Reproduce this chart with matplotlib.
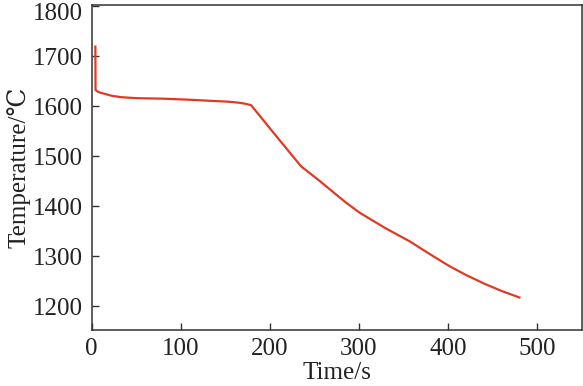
import matplotlib
matplotlib.use('Agg')
import matplotlib.pyplot as plt
from matplotlib.transforms import ScaledTranslation

# cooling curve
time_s = [4.3, 4.5, 8, 14, 22, 33, 50, 80, 108, 130, 153, 165, 172, 179,
          205, 235, 255, 270, 285, 301, 330, 357, 380, 402, 420, 440, 460, 480]
temp_c = [1719, 1632, 1628, 1625, 1621, 1618, 1616, 1615, 1613, 1611, 1609, 1607, 1605, 1602,
          1545, 1480, 1452, 1430, 1408, 1387, 1356, 1330, 1304, 1280, 1263, 1246, 1231, 1218]

x_ticks = [0, 100, 200, 300, 400, 500]
y_ticks = [1200, 1300, 1400, 1500, 1600, 1700, 1800]

plt.rcParams['font.family'] = ['Liberation Serif', 'DejaVu Serif']

fig = plt.figure(figsize=(5.83, 3.86), dpi=100)
ax = fig.add_axes([0.157, 0.145, 0.841, 0.842])

ax.plot(time_s, temp_c, color='#e23a22', linewidth=1.6)

ax.set_xlim(0, 550)
ax.set_ylim(1153, 1802)
ax.set_xticks(x_ticks)
ax.set_yticks(y_ticks)
ax.tick_params(direction='in', length=5, width=1, labelsize=18, colors='#333333',
               labelcolor='#222222', pad=6)
for sp in ax.spines.values():
    sp.set_color('#333333')
    sp.set_linewidth(1.1)

# top label sits a little lower so it stays inside the figure
top_lbl = ax.get_yticklabels()[-1]
top_lbl.set_transform(top_lbl.get_transform() + ScaledTranslation(0, -4 / 72, fig.dpi_scale_trans))

ax.set_xlabel('Time/s', fontsize=18, labelpad=1.5, color='#222222')
ax.set_ylabel('Temperature/\u2103', fontsize=18, labelpad=2, color='#222222')

fig.savefig('out.png', dpi=100)
